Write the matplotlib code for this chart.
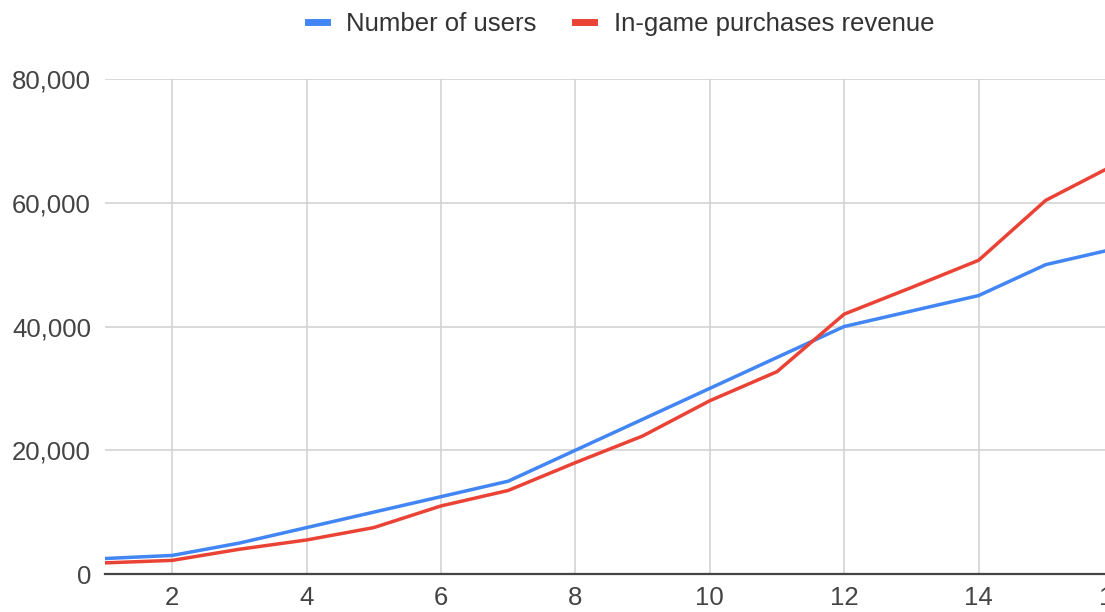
import matplotlib
matplotlib.use("Agg")
import matplotlib.pyplot as plt
from matplotlib.ticker import FuncFormatter, MultipleLocator

plt.rcParams["font.family"] = ["Liberation Sans", "DejaVu Sans"]

# monthly series
months = list(range(1, 17))
users = [2500, 3000, 5000, 7500, 10000, 12500, 15000, 20000,
         25000, 30000, 35000, 40000, 42500, 45000, 50000, 52500]
revenue = [1800, 2200, 4000, 5500, 7500, 11000, 13500, 18000,
           22300, 28000, 32700, 42000, 46300, 50700, 60400, 66000]

BLUE = "#4285F4"
RED = "#EA4335"

fig = plt.figure(figsize=(11.05, 6.12), dpi=100)
ax = fig.add_axes([105 / 1105, 38 / 612, 1008 / 1105, 495 / 612])

ax.plot(months, users, color=BLUE, lw=2.5, label="Number of users", zorder=3)
ax.plot(months, revenue, color=RED, lw=2.5, label="In-game purchases revenue", zorder=3)

ax.set_xlim(1, 16)
ax.set_ylim(0, 80000)
ax.xaxis.set_major_locator(MultipleLocator(2))
ax.yaxis.set_major_locator(MultipleLocator(20000))
ax.yaxis.set_major_formatter(FuncFormatter(lambda v, _: f"{int(v):,}"))

ax.grid(True, color="#d0d0d0", lw=1.1, zorder=0)
for side in ("top", "right", "left"):
    ax.spines[side].set_visible(False)
ax.spines["bottom"].set_color("#444444")
ax.spines["bottom"].set_linewidth(1.6)
ax.spines["bottom"].set_zorder(4)

ax.tick_params(axis="both", length=0, labelsize=18.5, labelcolor="#444444")
ax.tick_params(axis="y", pad=10)
ax.tick_params(axis="x", pad=8.5)

leg = ax.legend(loc="center", bbox_to_anchor=(621 / 1105, 588 / 612),
                bbox_transform=fig.transFigure, ncol=2, frameon=False,
                fontsize=18.5, handlelength=0.75, handletextpad=0.75,
                columnspacing=1.5, borderaxespad=0)
for h in leg.get_lines():
    h.set_linewidth(5)
for t in leg.get_texts():
    t.set_color("#333333")

fig.savefig("out.png", dpi=100)
